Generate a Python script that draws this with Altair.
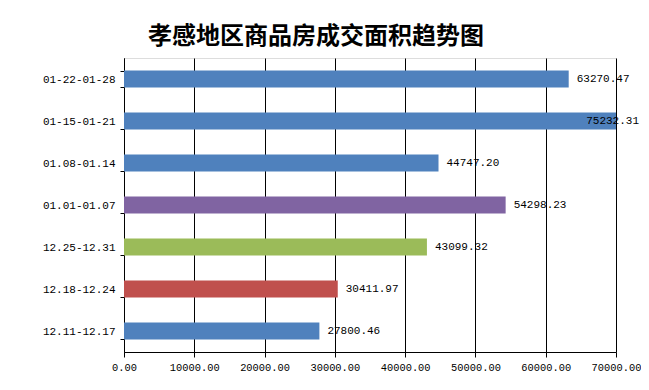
import altair as alt
import pandas as pd

periods = ["01-22-01-28", "01-15-01-21", "01.08-01.14", "01.01-01.07",
           "12.25-12.31", "12.18-12.24", "12.11-12.17"]
areas = [63270.47, 75232.31, 44747.20, 54298.23, 43099.32, 30411.97, 27800.46]
bar_colors = ["#4F81BD", "#4F81BD", "#4F81BD", "#8064A2",
              "#9BBB59", "#C0504D", "#4F81BD"]
x_ticks = [0, 10000, 20000, 30000, 40000, 50000, 60000, 70000]
XMAX = 70000
title_text = "孝感地区商品房成交面积趋势图"

df = pd.DataFrame({"period": periods, "area": areas, "color": bar_colors})
df["shown"] = df["area"].clip(upper=XMAX)
df["clipped"] = df["area"] > XMAX

MONO = "Liberation Mono"

yenc = alt.Y(
    "period:N", sort=periods,
    scale=alt.Scale(paddingInner=0.6, paddingOuter=0.3),
    axis=alt.Axis(title=None, tickBand="extent", grid=False,
                  domainColor="black", tickColor="black", tickSize=4,
                  labelFont=MONO, labelFontSize=11, labelColor="black",
                  labelPadding=5),
)
xscale = alt.Scale(domain=[0, XMAX], nice=False)
xaxis = alt.Axis(title=None, values=x_ticks, format=".2f", grid=True,
                 gridColor="black", gridOpacity=1, gridWidth=1,
                 domainColor="black", tickColor="black", tickSize=5,
                 labelFont=MONO, labelFontSize=10.4, labelColor="black",
                 labelPadding=5, labelOverlap=False, labelFlush=False)

base = alt.Chart(df)

bars = base.mark_bar(clip=True).encode(
    x=alt.X("area:Q", scale=xscale, axis=xaxis),
    y=yenc,
    color=alt.Color("color:N", scale=None, legend=None),
)

labels_in = base.transform_filter("!datum.clipped").mark_text(
    align="left", baseline="middle", dx=8, font=MONO, fontSize=11, color="black"
).encode(
    x=alt.X("shown:Q", scale=xscale),
    y=alt.Y("period:N", sort=periods),
    text=alt.Text("area:Q", format=".2f"),
)

labels_out = base.transform_filter("datum.clipped").mark_text(
    align="right", baseline="middle", dx=23, font=MONO, fontSize=11, color="black"
).encode(
    x=alt.X("shown:Q", scale=xscale),
    y=alt.Y("period:N", sort=periods),
    text=alt.Text("area:Q", format=".2f"),
)

chart = alt.layer(bars, labels_in, labels_out).properties(
    width=492, height=294,
    autosize=alt.AutoSizeParams(type="none"),
    padding={"left": 116, "top": 50, "right": 25, "bottom": 28},
    title=alt.TitleParams(title_text, font="Noto Sans CJK SC", fontSize=24,
                          fontWeight="bold", color="black", anchor="middle",
                          dx=-54, offset=3),
).configure_view(stroke="transparent").configure(background="white")

chart.save("out.html", embed_options={"renderer": "svg", "actions": False})
